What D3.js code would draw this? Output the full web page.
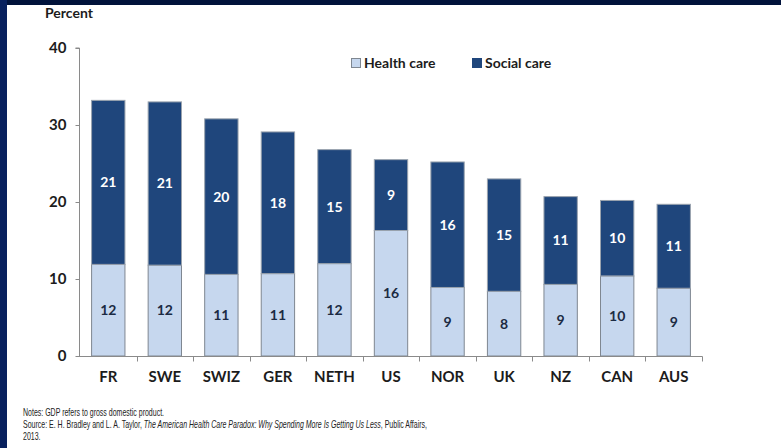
<!DOCTYPE html>
<html>
<head>
<meta charset="utf-8">
<script src="https://cdn.jsdelivr.net/npm/d3@7"></script>
<style>
  body { margin: 0; background: #fff; }
  svg { display: block; }
</style>
</head>
<body>
<div id="viz"></div>
<script>
var countries = ['FR', 'SWE', 'SWIZ', 'GER', 'NETH', 'US', 'NOR', 'UK', 'NZ', 'CAN', 'AUS'];
var healthCare = [11.9, 11.8, 10.6, 10.7, 12.0, 16.3, 8.9, 8.4, 9.3, 10.4, 8.8];
var socialCare = [21.3, 21.2, 20.2, 18.4, 14.8, 9.2, 16.3, 14.6, 11.4, 9.8, 10.9];
var healthLabels = ['12', '12', '11', '11', '12', '16', '9', '8', '9', '10', '9'];
var socialLabels = ['21', '21', '20', '18', '15', '9', '16', '15', '11', '10', '11'];
var seriesNames = ['Health care', 'Social care'];
var yTicks = [0, 10, 20, 30, 40];

var w = 781, h = 448;
var lightCol = '#c6d7ee', darkCol = '#1f467c', edgeCol = '#7f8791';
var font = 'Lato, "Open Sans", sans-serif';

var svg = d3.select('#viz').append('svg')
  .attr('width', w)
  .attr('height', h);

// dark frame
svg.append('rect').attr('x', 0).attr('y', 0).attr('width', w).attr('height', 5).attr('fill', '#01133b');
svg.append('rect').attr('x', 0).attr('y', 0).attr('width', 7).attr('height', h).attr('fill', '#08215e');

var x = d3.scaleBand()
  .domain(countries)
  .range([80, 702])
  .paddingInner(0.41)
  .paddingOuter(0.205);

var y = d3.scaleLinear()
  .domain([0, 40])
  .range([356, 48]);

var rows = countries.map(function(c, i) {
  return { c: c, health: healthCare[i], social: socialCare[i], hl: healthLabels[i], sl: socialLabels[i] };
});

// bars
var g = svg.append('g');
g.selectAll('.health')
  .data(rows).enter()
  .append('rect')
  .attr('x', d => x(d.c))
  .attr('width', x.bandwidth())
  .attr('y', d => y(d.health))
  .attr('height', d => y(0) - y(d.health))
  .attr('fill', lightCol)
  .attr('stroke', edgeCol)
  .attr('stroke-width', 1);

g.selectAll('.social')
  .data(rows).enter()
  .append('rect')
  .attr('x', d => x(d.c))
  .attr('width', x.bandwidth())
  .attr('y', d => y(d.health + d.social))
  .attr('height', d => y(d.health) - y(d.health + d.social))
  .attr('fill', darkCol)
  .attr('stroke', '#9aa3ae')
  .attr('stroke-width', 1);

// value labels
g.selectAll('.hl')
  .data(rows).enter()
  .append('text')
  .attr('x', d => x(d.c) + x.bandwidth() / 2)
  .attr('y', d => (y(0) + y(d.health)) / 2)
  .attr('dy', '0.35em')
  .attr('text-anchor', 'middle')
  .style('font', 'bold 14px ' + font)
  .attr('fill', '#1b2a42')
  .text(d => d.hl);

g.selectAll('.sl')
  .data(rows).enter()
  .append('text')
  .attr('x', d => x(d.c) + x.bandwidth() / 2)
  .attr('y', d => (y(d.health) + y(d.health + d.social)) / 2)
  .attr('dy', '0.35em')
  .attr('text-anchor', 'middle')
  .style('font', 'bold 14px ' + font)
  .attr('fill', '#fff')
  .text(d => d.sl);

// axes
var yAxis = d3.axisLeft(y).tickValues(yTicks).tickSize(4).tickPadding(9);
var ya = svg.append('g').attr('transform', 'translate(79.5,0)').call(yAxis);
ya.select('.domain').attr('stroke', '#8a8a8a').attr('d', 'M-4,' + y(40) + 'H0V' + y(0));
ya.selectAll('.tick line').attr('stroke', '#8a8a8a');
ya.selectAll('.tick text').style('font', 'bold 15px ' + font).attr('fill', '#1c1c1c');

var xAxis = d3.axisBottom(x).tickSize(0).tickPadding(15);
var xa = svg.append('g').attr('transform', 'translate(0,356.5)').call(xAxis);
xa.select('.domain').attr('stroke', '#8a8a8a').attr('d', 'M76,0H702.5V5');
xa.selectAll('.tick text').style('font', 'bold 15px ' + font).attr('fill', '#1c1c1c');
// band boundary ticks
var bounds = countries.slice(1).map(c => x(c) - x.step() * x.paddingInner() / 2);
xa.selectAll('.btick')
  .data(bounds).enter()
  .append('line')
  .attr('x1', d => Math.round(d) + 0.5)
  .attr('x2', d => Math.round(d) + 0.5)
  .attr('y1', 0).attr('y2', 5)
  .attr('stroke', '#8a8a8a');

// axis title
svg.append('text')
  .attr('x', 45).attr('y', 18)
  .style('font', 'bold 14px ' + font)
  .attr('fill', '#1c1c1c')
  .text('Percent');

// legend
var legend = svg.append('g').attr('transform', 'translate(351,58)');
var lx = [0, 121];
seriesNames.forEach(function(n, i) {
  legend.append('rect')
    .attr('x', lx[i] + 0.5).attr('y', 0.5)
    .attr('width', 9).attr('height', 9)
    .attr('fill', i ? darkCol : lightCol)
    .attr('stroke', i ? darkCol : edgeCol);
  legend.append('text')
    .attr('x', lx[i] + 13).attr('y', 5)
    .attr('dy', '0.36em')
    .style('font', 'bold 14px ' + font)
    .attr('fill', '#1c1c1c')
    .text(n);
});

// notes (condensed look: squeeze the whole block horizontally)
var nf = '"Liberation Sans", sans-serif';
var notes = svg.append('g').style('font', '10.5px ' + nf).attr('fill', '#222');
notes.append('text').attr('x', 0).attr('y', 416)
  .text('Notes: GDP refers to gross domestic product.');
var src = notes.append('text').attr('x', 0).attr('y', 428);
src.append('tspan').text('Source: E. H. Bradley and L. A. Taylor, ');
src.append('tspan').style('font-style', 'italic').text('The American Health Care Paradox: Why Spending More Is Getting Us Less');
src.append('tspan').text(', Public Affairs,');
notes.append('text').attr('x', 0).attr('y', 440)
  .text('2013.');
var srcW = src.node().getComputedTextLength();
var sx = 405 / srcW;
notes.attr('transform', 'translate(23,0) scale(' + sx + ',1)');
</script>
</body>
</html>
